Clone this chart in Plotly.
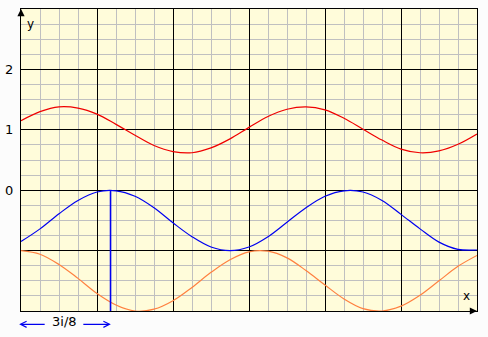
import plotly.graph_objects as go

# sample positions along x (axis units; one major square = 1)
x_vals = [0.0, 0.25, 0.5, 0.75, 1.0, 1.25, 1.5, 1.75, 2.0, 2.25, 2.5, 2.75, 3.0,
          3.25, 3.5, 3.75, 4.0, 4.25, 4.5, 4.75, 5.0, 5.25, 5.5, 5.75, 6.0]

# red curve (sum)
red_y = [1.15, 1.30, 1.38, 1.36, 1.26, 1.09, 0.91, 0.74, 0.64, 0.62, 0.70, 0.85, 1.04,
         1.22, 1.34, 1.38, 1.33, 1.19, 1.01, 0.83, 0.68, 0.62, 0.65, 0.76, 0.93]

# blue curve (shifted)
blue_y = [-0.85, -0.64, -0.39, -0.17, -0.03, -0.01, -0.10, -0.29, -0.54, -0.77, -0.94, -1.00, -0.94,
          -0.77, -0.53, -0.29, -0.10, -0.01, -0.03, -0.17, -0.40, -0.64, -0.86, -0.98, -0.99]

# orange curve
orange_y = [-1.00, -1.06, -1.23, -1.46, -1.71, -1.90, -2.00, -1.97, -1.83, -1.61, -1.36, -1.15, -1.02,
            -1.01, -1.12, -1.33, -1.57, -1.80, -1.96, -2.00, -1.92, -1.74, -1.50, -1.26, -1.08]

# phase marker (3π/8)
phase_x = [1.178, 1.178]
phase_y = [0.0, -2.0]

y_label_vals = [0, 1, 2]
y_label_text = ["0", "1", "2"]
phase_label = "3i/8"

fig = go.Figure()
fig.add_trace(go.Scatter(x=x_vals, y=red_y, mode="lines", line=dict(color="#F00000", width=1.2, shape="spline"),
                         hoverinfo="skip"))
fig.add_trace(go.Scatter(x=x_vals, y=blue_y, mode="lines", line=dict(color="#0000F0", width=1.2, shape="spline"),
                         hoverinfo="skip"))
fig.add_trace(go.Scatter(x=x_vals, y=orange_y, mode="lines", line=dict(color="#FF8040", width=1.2, shape="spline"),
                         hoverinfo="skip"))
fig.add_trace(go.Scatter(x=phase_x, y=phase_y, mode="lines", line=dict(color="#0000F0", width=1.6),
                         hoverinfo="skip"))

font = dict(family="DejaVu Sans", size=12, color="black")
arrow_y = -0.044  # paper units below the plot

annotations = [
    dict(x=0.02, y=1.0, xref="paper", yref="paper", text="y", showarrow=False,
         xanchor="center", yanchor="top", yshift=-6, font=font),
    dict(x=0.978, y=0.0, xref="paper", yref="paper", text="x", showarrow=False,
         xanchor="center", yanchor="bottom", yshift=6, font=font),
    # axis arrowheads
    dict(x=0, y=3, xref="x", yref="y", ax=0, ay=7, axref="pixel", ayref="pixel", text="",
         showarrow=True, arrowhead=2, arrowsize=1.2, arrowwidth=1.2, arrowcolor="black"),
    dict(x=6, y=-2, xref="x", yref="y", ax=-7, ay=0, axref="pixel", ayref="pixel", text="",
         showarrow=True, arrowhead=2, arrowsize=1.2, arrowwidth=1.2, arrowcolor="black"),
    # phase dimension arrow
    dict(x=0.572, y=arrow_y, xref="x", yref="paper", text=phase_label, showarrow=False,
         xanchor="center", yanchor="middle", yshift=3, font=dict(family="DejaVu Sans", size=13, color="black")),
    dict(x=-0.004, y=arrow_y, xref="paper", yref="paper", ax=27, ay=0, axref="pixel", ayref="pixel", text="",
         showarrow=True, arrowhead=5, arrowsize=1.0, arrowwidth=1.2, arrowcolor="#0000F0"),
    dict(x=0.197, y=arrow_y, xref="paper", yref="paper", ax=-29, ay=0, axref="pixel", ayref="pixel", text="",
         showarrow=True, arrowhead=5, arrowsize=1.0, arrowwidth=1.2, arrowcolor="#0000F0"),
]
# y tick labels (only 0, 1, 2 are labelled)
for v, t in zip(y_label_vals, y_label_text):
    annotations.append(dict(x=0, y=v, xref="paper", yref="y", text=t, showarrow=False,
                            xanchor="right", yanchor="middle", xshift=-6, font=dict(family="DejaVu Sans", size=13, color="black")))

minor_grid = dict(dtick=0.25, showgrid=True, gridcolor="#C0C0C0", gridwidth=1, ticks="")

fig.update_layout(
    width=488, height=337,
    margin=dict(l=21, r=11, t=9, b=26, pad=0),
    paper_bgcolor="#FCFCFC",
    plot_bgcolor="#FFFCDA",
    showlegend=False,
    annotations=annotations,
    xaxis=dict(range=[0, 6], tickmode="linear", tick0=0, dtick=1, showticklabels=False,
               showgrid=True, gridcolor="black", gridwidth=1.2,
               zeroline=False, showline=True, linecolor="black", linewidth=1.2, mirror=True,
               ticks="", fixedrange=True, minor=minor_grid),
    yaxis=dict(range=[-2, 3], tickmode="linear", tick0=0, dtick=1, showticklabels=False,
               showgrid=True, gridcolor="black", gridwidth=1.2,
               zeroline=False, showline=True, linecolor="black", linewidth=1.2, mirror=True,
               ticks="", fixedrange=True, minor=minor_grid),
)

fig.write_html("out.html", config={"displayModeBar": False})
